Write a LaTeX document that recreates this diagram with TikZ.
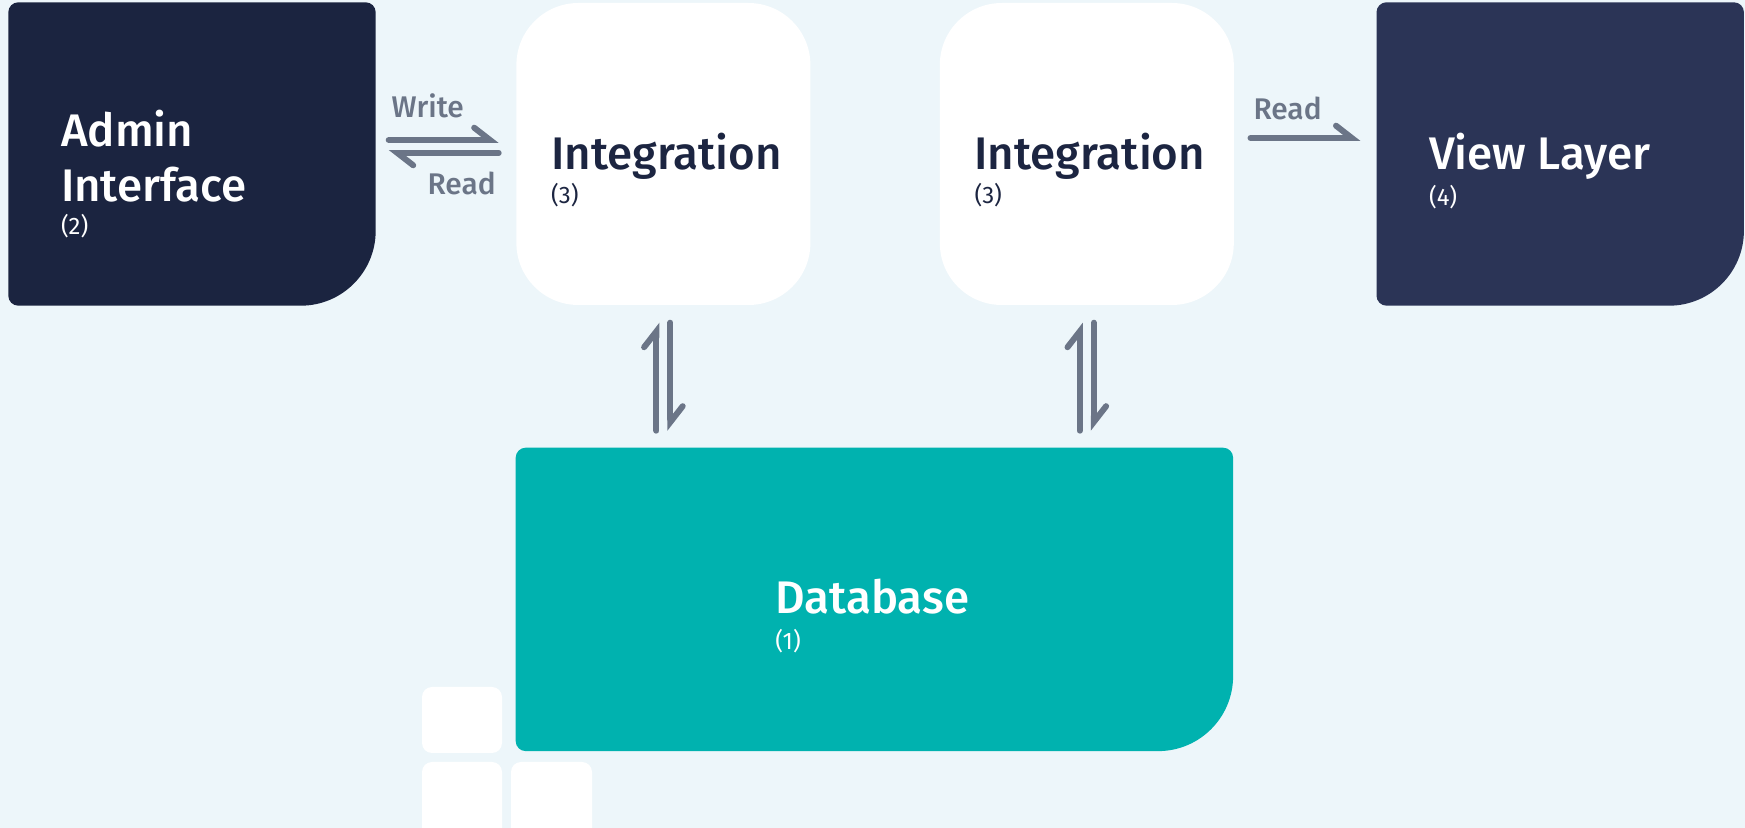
\documentclass[tikz,border=0pt]{standalone}
\usepackage{fontspec}
\setmainfont{Fira Sans}
\newfontfamily\medfont{Fira Sans Medium}
\usetikzlibrary{arrows.meta,positioning,calc}

\definecolor{adminblue}{HTML}{1B2440}
\definecolor{viewblue}{HTML}{2B3456}
\definecolor{dbteal}{HTML}{00B2AF}
\definecolor{arrowgray}{HTML}{6B7587}
\definecolor{textdark}{HTML}{1C2541}
\definecolor{bgcol}{HTML}{EDF6FA}

\begin{document}
\begin{tikzpicture}[
      box/.style={
         rectangle,
         inner sep=0pt,
         minimum width=3.66cm,
         minimum height=3.02cm},
      intbox/.style={
         rectangle,
         fill=white,
         rounded corners=0.62cm,
         inner sep=0pt,
         minimum width=2.94cm,
         minimum height=3.02cm},
      title/.style={
         font=\medfont\fontsize{13}{15.7}\selectfont,
         align=left,
         inner sep=0pt},
      numtxt/.style={
         font=\fontsize{6.8}{8}\selectfont,
         inner sep=0pt},
      lbl/.style={
         text=arrowgray,
         font=\medfont\fontsize{8.5}{10}\selectfont,
         inner sep=0pt},
      harp/.style={
         draw=arrowgray,
         line width=1.7pt,
         line cap=round,
         -{Straight Barb[harpoon, length=4.5pt, width=7pt, line cap=round]}},
      node distance=1.4cm and 1.4cm
      ]
      \useasboundingbox (0,0) rectangle (17.45,8.28);
      \fill[bgcol] (0,0) rectangle (17.45,8.28);

      % small squares bottom left
      \foreach \xa/\ya/\xb/\yb in {4.22/0.75/5.02/1.41, 4.22/-0.1/5.02/0.66, 5.11/-0.1/5.92/0.66}
         \fill[white, rounded corners=0.1cm] (\xa,\ya) rectangle (\xb,\yb);

      \node[box] (adm) at (1.92,6.74) {};
      \node[intbox, right=of adm] (i1) {};
      \node[intbox, right=1.28cm of i1] (i2) {};
      \node[box, right=1.42cm of i2] (view) {};
      \node[box, minimum width=7.16cm, below=1.42cm of i1.south west, anchor=north west] (db) {};

      % boxes with one big corner
      \foreach \n/\c in {adm/adminblue, view/viewblue, db/dbteal}
         \fill[\c]
            ($(\n.north west)+(0.1,0)$) -- ($(\n.north east)-(0.1,0)$)
            arc[start angle=90, end angle=0, radius=0.1]
            -- ($(\n.south east)+(0,0.75)$)
            arc[start angle=0, end angle=-90, radius=0.75]
            -- ($(\n.south west)+(0.1,0)$)
            arc[start angle=270, end angle=180, radius=0.1]
            -- ($(\n.north west)-(0,0.1)$)
            arc[start angle=180, end angle=90, radius=0.1] -- cycle;

      \node[title, white, anchor=north west] (admt) at ($(adm.north west)+(0.52,-1.07)$) {Admin\\Interface};
      \node[numtxt, white, anchor=base west] (admn) at ($(adm.north west)+(0.52,-2.32)$) {(2)};
      \node[title, textdark, anchor=base west] (i1t) at ($(i1.north)+(-1.13,-1.67)$) {Integration};
      \node[numtxt, textdark, anchor=base west] (i1n) at ($(i1.north)+(-1.13,-2.01)$) {(3)};
      \node[title, textdark, anchor=base west] (i2t) at ($(i2.north)+(-1.13,-1.67)$) {Integration};
      \node[numtxt, textdark, anchor=base west] (i2n) at ($(i2.north)+(-1.13,-2.01)$) {(3)};
      \node[title, white, anchor=base west] (viewt) at ($(view.north west)+(0.52,-1.67)$) {View Layer};
      \node[numtxt, white, anchor=base west] (viewn) at ($(view.north west)+(0.52,-2.03)$) {(4)};
      \node[title, white, anchor=base west] (dbt) at ($(db.north west)+(2.59,-1.66)$) {Database};
      \node[numtxt, white, anchor=base west] (dbn) at ($(db.north west)+(2.59,-2.02)$) {(1)};

      \draw[harp, shorten <=0.13cm, shorten >=0.17cm] ([yshift=0.14cm]adm.east) --
         node[lbl, pos=0.093, anchor=base west, yshift=0.22cm] (wr) {Write} ([yshift=0.14cm]i1.west);
      \draw[harp, shorten <=0.17cm, shorten >=0.13cm] ([yshift=0.01cm]i1.west) --
         node[lbl, pos=0.121, anchor=base east, yshift=-0.42cm] (rd1) {Read} ([yshift=0.01cm]adm.east);
      \draw[harp, shorten <=0.16cm, shorten >=0.16cm] ([yshift=0.16cm]i2.east) --
         node[lbl, pos=0.113, anchor=base west, yshift=0.18cm] (rd2) {Read} ([yshift=0.16cm]view.west);

      \foreach \i in {i1,i2}{
         \draw[harp, shorten <=0.17cm, shorten >=0.17cm] ([xshift=-0.07cm]\i.south |- db.north) -- ([xshift=-0.07cm]\i.south);
         \draw[harp, shorten <=0.17cm, shorten >=0.17cm] ([xshift=0.07cm]\i.south) -- ([xshift=0.07cm]\i.south |- db.north);
      }
\end{tikzpicture}
\end{document}
